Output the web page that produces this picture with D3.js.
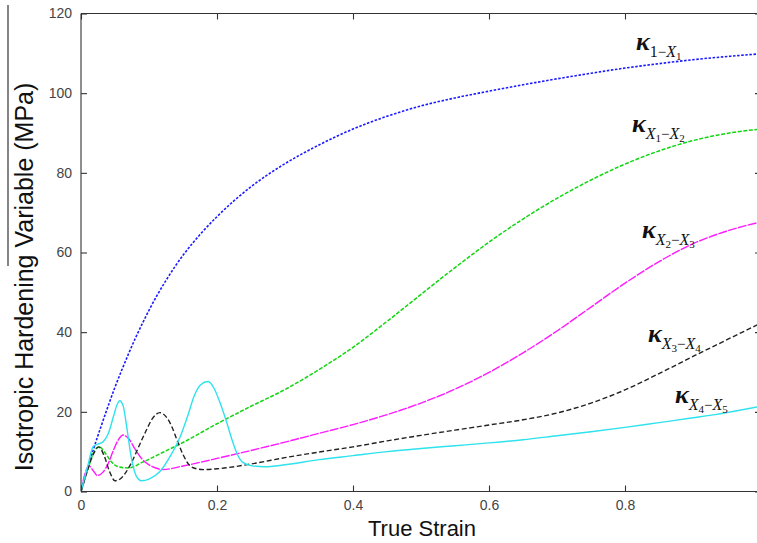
<!DOCTYPE html>
<html>
<head>
<meta charset="utf-8">
<script src="https://cdn.jsdelivr.net/npm/d3@7"></script>
<style>
  html, body { margin: 0; padding: 0; background: #fff; }
  svg { display: block; }
</style>
</head>
<body>
<svg id="chart" width="757" height="543"></svg>
<script>
// Isotropic hardening variables vs. true strain, one curve per grain-size band.
// Each series is a list of [true strain, MPa] pairs.
const kappa1X1 = [[0,0],[0.01,6],[0.02,11.5],[0.03,16.6],[0.04,21.5],[0.05,26.2],[0.06,30.5],[0.07,34.6],[0.08,38.5],[0.09,42.1],[0.1,45.5],[0.125,53],[0.15,59.3],[0.175,64.5],[0.2,69],[0.25,76.5],[0.3,82.3],[0.35,87],[0.4,91],[0.45,94.2],[0.5,96.8],[0.55,98.8],[0.6,100.5],[0.65,102.1],[0.7,103.6],[0.75,105],[0.8,106.3],[0.85,107.4],[0.9,108.4],[0.95,109.2],[1.0,109.9]];

const kappaX1X2 = [[0,0],[0.01,5.5],[0.02,10.3],[0.027,11.2],[0.035,9.8],[0.045,7.4],[0.055,6.2],[0.07,5.9],[0.09,7.3],[0.12,9.8],[0.15,12.3],[0.2,17],[0.25,21.4],[0.3,25.6],[0.35,30.6],[0.4,36.2],[0.45,42.7],[0.5,49.5],[0.55,56.2],[0.6,62.6],[0.65,68.4],[0.7,73.6],[0.75,78.2],[0.8,82.2],[0.85,85.5],[0.9,88.1],[0.95,89.9],[1.0,91]];

const kappaX2X3 = [[0,0],[0.006,4.5],[0.012,6.4],[0.018,5.2],[0.024,4],[0.032,4.8],[0.04,7],[0.048,10.5],[0.055,13],[0.062,14.2],[0.07,13.3],[0.08,10.5],[0.09,8.1],[0.1,6.7],[0.11,5.9],[0.12,5.5],[0.15,6.4],[0.2,8.3],[0.25,10.3],[0.3,12.4],[0.35,14.6],[0.4,16.8],[0.45,19.3],[0.5,22.2],[0.55,25.7],[0.6,29.9],[0.65,34.8],[0.7,40.3],[0.75,46.3],[0.8,52.3],[0.85,57.7],[0.9,62.2],[0.95,65.4],[1.0,67.7]];

const kappaX3X4 = [[0,0],[0.008,4.5],[0.016,8.5],[0.026,11.2],[0.034,9],[0.042,5],[0.05,2.7],[0.058,3.2],[0.066,4.8],[0.075,7.5],[0.085,11.3],[0.095,15],[0.105,18.3],[0.116,19.8],[0.125,18.8],[0.133,16.5],[0.141,13],[0.15,9.3],[0.16,6.5],[0.17,5.7],[0.18,5.5],[0.2,5.7],[0.25,6.9],[0.3,8.5],[0.35,9.9],[0.4,11.2],[0.45,12.7],[0.5,14.1],[0.55,15.4],[0.6,16.7],[0.65,18],[0.7,19.7],[0.75,22.2],[0.8,25.5],[0.85,29.6],[0.9,33.9],[0.95,38.1],[1.0,42.3]];

const kappaX4X5 = [[0,0],[0.01,6.5],[0.018,11.3],[0.025,11.9],[0.032,12.4],[0.04,14.5],[0.048,19],[0.053,21.8],[0.057,22.8],[0.062,21.5],[0.067,16.5],[0.074,8.5],[0.081,4],[0.089,2.7],[0.1,3.1],[0.116,5],[0.13,8.5],[0.146,13.8],[0.157,19],[0.166,23.8],[0.176,26.8],[0.187,27.6],[0.196,25.8],[0.205,22],[0.214,17.5],[0.222,13],[0.23,9.3],[0.238,7.3],[0.25,6.5],[0.27,6.2],[0.3,6.7],[0.35,8],[0.4,9],[0.45,10],[0.5,10.8],[0.55,11.5],[0.6,12.2],[0.65,13],[0.7,14],[0.75,15],[0.8,16.1],[0.85,17.3],[0.9,18.5],[0.95,19.8],[1.0,21.4]];

const xTicks = [0, 0.2, 0.4, 0.6, 0.8];
const yTicks = [0, 20, 40, 60, 80, 100, 120];

// Subscript pieces of each curve label: [main, index] pairs joined by a minus sign.
const seriesNames = [
  [["1", ""], ["X", "1"]],
  [["X", "1"], ["X", "2"]],
  [["X", "2"], ["X", "3"]],
  [["X", "3"], ["X", "4"]],
  [["X", "4"], ["X", "5"]]
];

const series = [
  { data: kappa1X1,  color: "#1a1aff", dash: "2.5,1.6", width: 1.6, label: [636, 50] },
  { data: kappaX1X2, color: "#11d611", dash: "4,1.6",   width: 1.5, label: [632, 132] },
  { data: kappaX2X3, color: "#ff1aff", dash: "9,1.2",   width: 1.4, label: [642, 238] },
  { data: kappaX3X4, color: "#222222", dash: "5,2.6",   width: 1.4, label: [648, 342] },
  { data: kappaX4X5, color: "#2ee2ee", dash: null,      width: 1.4, label: [675, 403] }
];

const svg = d3.select("#chart");
const plotL = 81, plotR = 761, plotT = 13.5, plotB = 491.5;

const x = d3.scaleLinear().domain([0, 1]).range([plotL, plotR]);
const y = d3.scaleLinear().domain([0, 120]).range([plotB, plotT]);

svg.append("defs").append("clipPath").attr("id", "plot-clip")
  .append("rect").attr("x", plotL).attr("y", plotT)
  .attr("width", plotR - plotL).attr("height", plotB - plotT);

// Curves
const line = d3.line()
  .x(d => x(d[0]))
  .y(d => y(d[1]))
  .curve(d3.curveMonotoneX);

const curves = svg.append("g").attr("clip-path", "url(#plot-clip)");
series.forEach(s => {
  curves.append("path")
    .datum(s.data)
    .attr("fill", "none")
    .attr("stroke", s.color)
    .attr("stroke-width", s.width)
    .attr("stroke-dasharray", s.dash)
    .attr("d", line);
});

// Box frame with inward ticks on all four sides
const axisColor = "#333";
const sansFont = "Liberation Sans, Arial, sans-serif";

const axB = d3.axisBottom(x).tickValues(xTicks).tickSize(-6).tickPadding(9)
  .tickFormat(d => d === 0 ? "0" : d3.format(".1f")(d));
const axT = d3.axisTop(x).tickValues(xTicks).tickSize(-6).tickFormat("");
const axL = d3.axisLeft(y).tickValues(yTicks).tickSize(-6).tickPadding(9);
const axR = d3.axisRight(y).tickValues(yTicks).tickSize(-6).tickFormat("");

function styleAxis(g) {
  g.select(".domain").attr("stroke", axisColor).attr("stroke-width", 1.1);
  g.selectAll(".tick line").attr("stroke", axisColor).attr("stroke-width", 1.1);
  g.selectAll(".tick text").attr("fill", "#444")
    .style("font-family", sansFont).style("font-size", "14px");
}

svg.append("g").attr("transform", `translate(0,${plotB})`).call(axB).call(styleAxis)
  .call(g => g.select(".domain").attr("d", `M${plotL},0H${plotR}`));
svg.append("g").attr("transform", `translate(0,${plotT})`).call(axT).call(styleAxis)
  .call(g => g.select(".domain").attr("d", `M${plotL},0H${plotR}`));
svg.append("g").attr("transform", `translate(${plotL},0)`).call(axL).call(styleAxis)
  .call(g => g.select(".domain").attr("d", `M0,${plotT}V${plotB}`));
svg.append("g").attr("transform", `translate(${plotR},0)`).call(axR).call(styleAxis)
  .call(g => g.select(".domain").attr("d", `M0,${plotT}V${plotB}`));

// Axis titles
svg.append("text")
  .attr("x", 422).attr("y", 536)
  .attr("text-anchor", "middle")
  .style("font-family", sansFont).style("font-size", "22px").attr("fill", "#111")
  .text("True Strain");

svg.append("text")
  .attr("transform", "translate(33,277) rotate(-90)")
  .attr("text-anchor", "middle")
  .style("font-family", sansFont).style("font-size", "25px").attr("fill", "#111")
  .text("Isotropic Hardening Variable (MPa)");

svg.append("line")
  .attr("x1", 8).attr("x2", 8).attr("y1", 5).attr("y2", 266)
  .attr("stroke", "#333").attr("stroke-width", 1.2);

// Curve labels: kappa with a two-level subscript
const serif = "Liberation Serif, Times New Roman, serif";
series.forEach((s, i) => {
  const t = svg.append("text")
    .attr("x", s.label[0]).attr("y", s.label[1])
    .style("font-family", serif).attr("fill", "#111");
  t.append("tspan").text("κ")
    .style("font-size", "26px").style("font-style", "italic").style("font-weight", "bold");
  let offset = 0; // current baseline shift relative to the kappa
  const shiftTo = target => { const d = target - offset; offset = target; return d; };
  seriesNames[i].forEach((p, j) => {
    if (j > 0) {
      t.append("tspan").text("−").attr("dy", shiftTo(7)).style("font-size", "15px");
    }
    t.append("tspan").text(p[0])
      .attr("dy", shiftTo(7))
      .style("font-size", "16px")
      .style("font-style", p[0] === "X" ? "italic" : "normal");
    if (p[1]) {
      t.append("tspan").text(p[1]).attr("dy", shiftTo(10)).style("font-size", "11px");
    }
  });
});
</script>
</body>
</html>
